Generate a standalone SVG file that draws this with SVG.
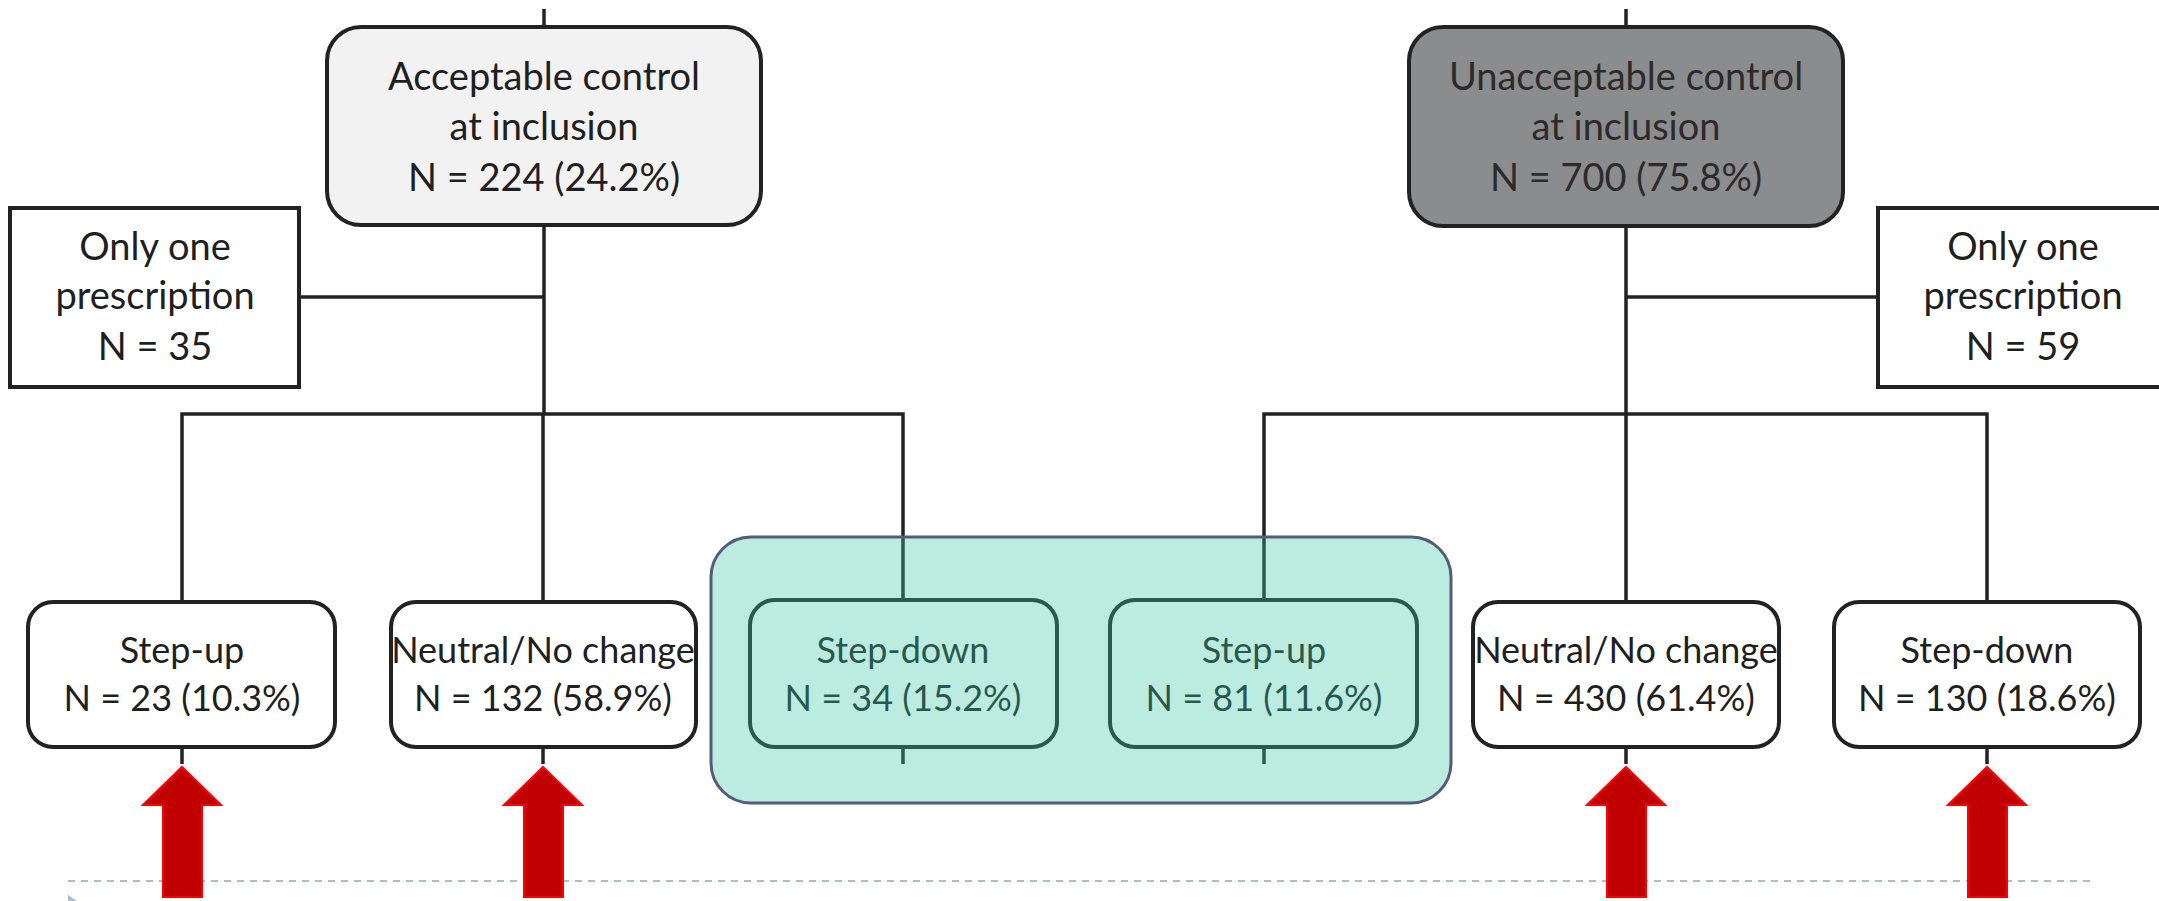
<svg xmlns="http://www.w3.org/2000/svg" width="2159" height="901" viewBox="0 0 2159 901">
  <style>
    .box { fill: #ffffff; stroke: #222222; stroke-width: 4; }
    .conn { fill: none; stroke: #222222; stroke-width: 3.5; }
    .t { font-family: Lato, "Liberation Sans", sans-serif; fill: #1f1f1f; text-anchor: middle; }
    .big { font-size: 38px; }
    .small { font-size: 36px; }
    .arrow { fill: #c00000; stroke: #ff0000; stroke-width: 2; stroke-linejoin: miter; }
  </style>
  <defs>
    <path id="uparrow" d="M0 0 L39 38 L20 38 L20 130 L-19 130 L-19 38 L-39 38 Z"/>
  </defs>

  <rect width="2159" height="901" fill="#ffffff"/>

  <!-- separator line and corner mark -->
  <line x1="68" y1="881" x2="2091" y2="881" stroke="#a9bfd0" stroke-width="2" stroke-dasharray="7 6"/>
  <polygon points="68,895 77,901 68,901" fill="#a9bfd0"/>

  <!-- connectors -->
  <g id="connectors" class="conn">
    <path d="M544 9 V27"/>
    <path d="M544 224 V414"/>
    <path d="M299 297 H544"/>
    <path d="M182 602 V414 H903 V600"/>
    <path d="M543 414 V602"/>
    <path d="M1626 9 V27"/>
    <path d="M1626 227 V414"/>
    <path d="M1626 297 H1878"/>
    <path d="M1264 600 V414 H1987 V602"/>
    <path d="M1626 414 V602"/>
    <path d="M182 747 V764"/>
    <path d="M543 747 V764"/>
    <path d="M903 747 V764"/>
    <path d="M1264 747 V764"/>
    <path d="M1626 747 V764"/>
    <path d="M1987 747 V764"/>
  </g>

  <g id="acceptable">
    <rect x="327" y="27" width="434" height="198" rx="34" class="box" style="fill:#f2f2f2"/>
    <text class="t big" x="544" y="90">Acceptable control</text>
    <text class="t big" x="544" y="140">at inclusion</text>
    <text class="t big" x="544" y="191">N = 224 (24.2%)</text>
  </g>

  <g id="unacceptable">
    <rect x="1409" y="27" width="434" height="199" rx="34" class="box" style="fill:#8b8c8e"/>
    <text class="t big" x="1626" y="90" style="fill:#2e2a2a">Unacceptable control</text>
    <text class="t big" x="1626" y="140" style="fill:#2e2a2a">at inclusion</text>
    <text class="t big" x="1626" y="191" style="fill:#2e2a2a">N = 700 (75.8%)</text>
  </g>

  <g id="only-one-left">
    <rect x="10" y="208" width="289" height="179" class="box"/>
    <text class="t big" x="155" y="260">Only one</text>
    <text class="t big" x="155" y="309">prescription</text>
    <text class="t big" x="155" y="360">N = 35</text>
  </g>

  <g id="only-one-right">
    <rect x="1878" y="208" width="290" height="179" class="box"/>
    <text class="t big" x="2023" y="260">Only one</text>
    <text class="t big" x="2023" y="309">prescription</text>
    <text class="t big" x="2023" y="360">N = 59</text>
  </g>

  <g id="acc-stepup">
    <rect x="28" y="602" width="307" height="145" rx="25" class="box"/>
    <text class="t small" x="182" y="663">Step-up</text>
    <text class="t small" x="182" y="711">N = 23 (10.3%)</text>
  </g>

  <g id="acc-neutral">
    <rect x="391" y="602" width="305" height="145" rx="25" class="box"/>
    <text class="t small" x="543" y="663">Neutral/No change</text>
    <text class="t small" x="543" y="711">N = 132 (58.9%)</text>
  </g>

  <g id="acc-stepdown">
    <rect x="750" y="600" width="307" height="147" rx="25" class="box"/>
    <text class="t small" x="903" y="663">Step-down</text>
    <text class="t small" x="903" y="711">N = 34 (15.2%)</text>
  </g>

  <g id="unacc-stepup">
    <rect x="1110" y="600" width="307" height="147" rx="25" class="box"/>
    <text class="t small" x="1264" y="663">Step-up</text>
    <text class="t small" x="1264" y="711">N = 81 (11.6%)</text>
  </g>

  <g id="unacc-neutral">
    <rect x="1473" y="602" width="306" height="145" rx="25" class="box"/>
    <text class="t small" x="1626" y="663">Neutral/No change</text>
    <text class="t small" x="1626" y="711">N = 430 (61.4%)</text>
  </g>

  <g id="unacc-stepdown">
    <rect x="1834" y="602" width="306" height="145" rx="25" class="box"/>
    <text class="t small" x="1987" y="663">Step-down</text>
    <text class="t small" x="1987" y="711">N = 130 (18.6%)</text>
  </g>

  <!-- translucent highlight over the two crossover groups -->
  <g id="highlight">
    <rect x="711" y="537" width="740" height="266" rx="40" fill="#3cc8a0" fill-opacity="0.34" stroke="#555b7b" stroke-width="3"/>
  </g>

  <g id="arrows">
    <use href="#uparrow" class="arrow" x="182" y="767"/>
    <use href="#uparrow" class="arrow" x="543" y="767"/>
    <use href="#uparrow" class="arrow" x="1626" y="767"/>
    <use href="#uparrow" class="arrow" x="1987" y="767"/>
  </g>
</svg>
